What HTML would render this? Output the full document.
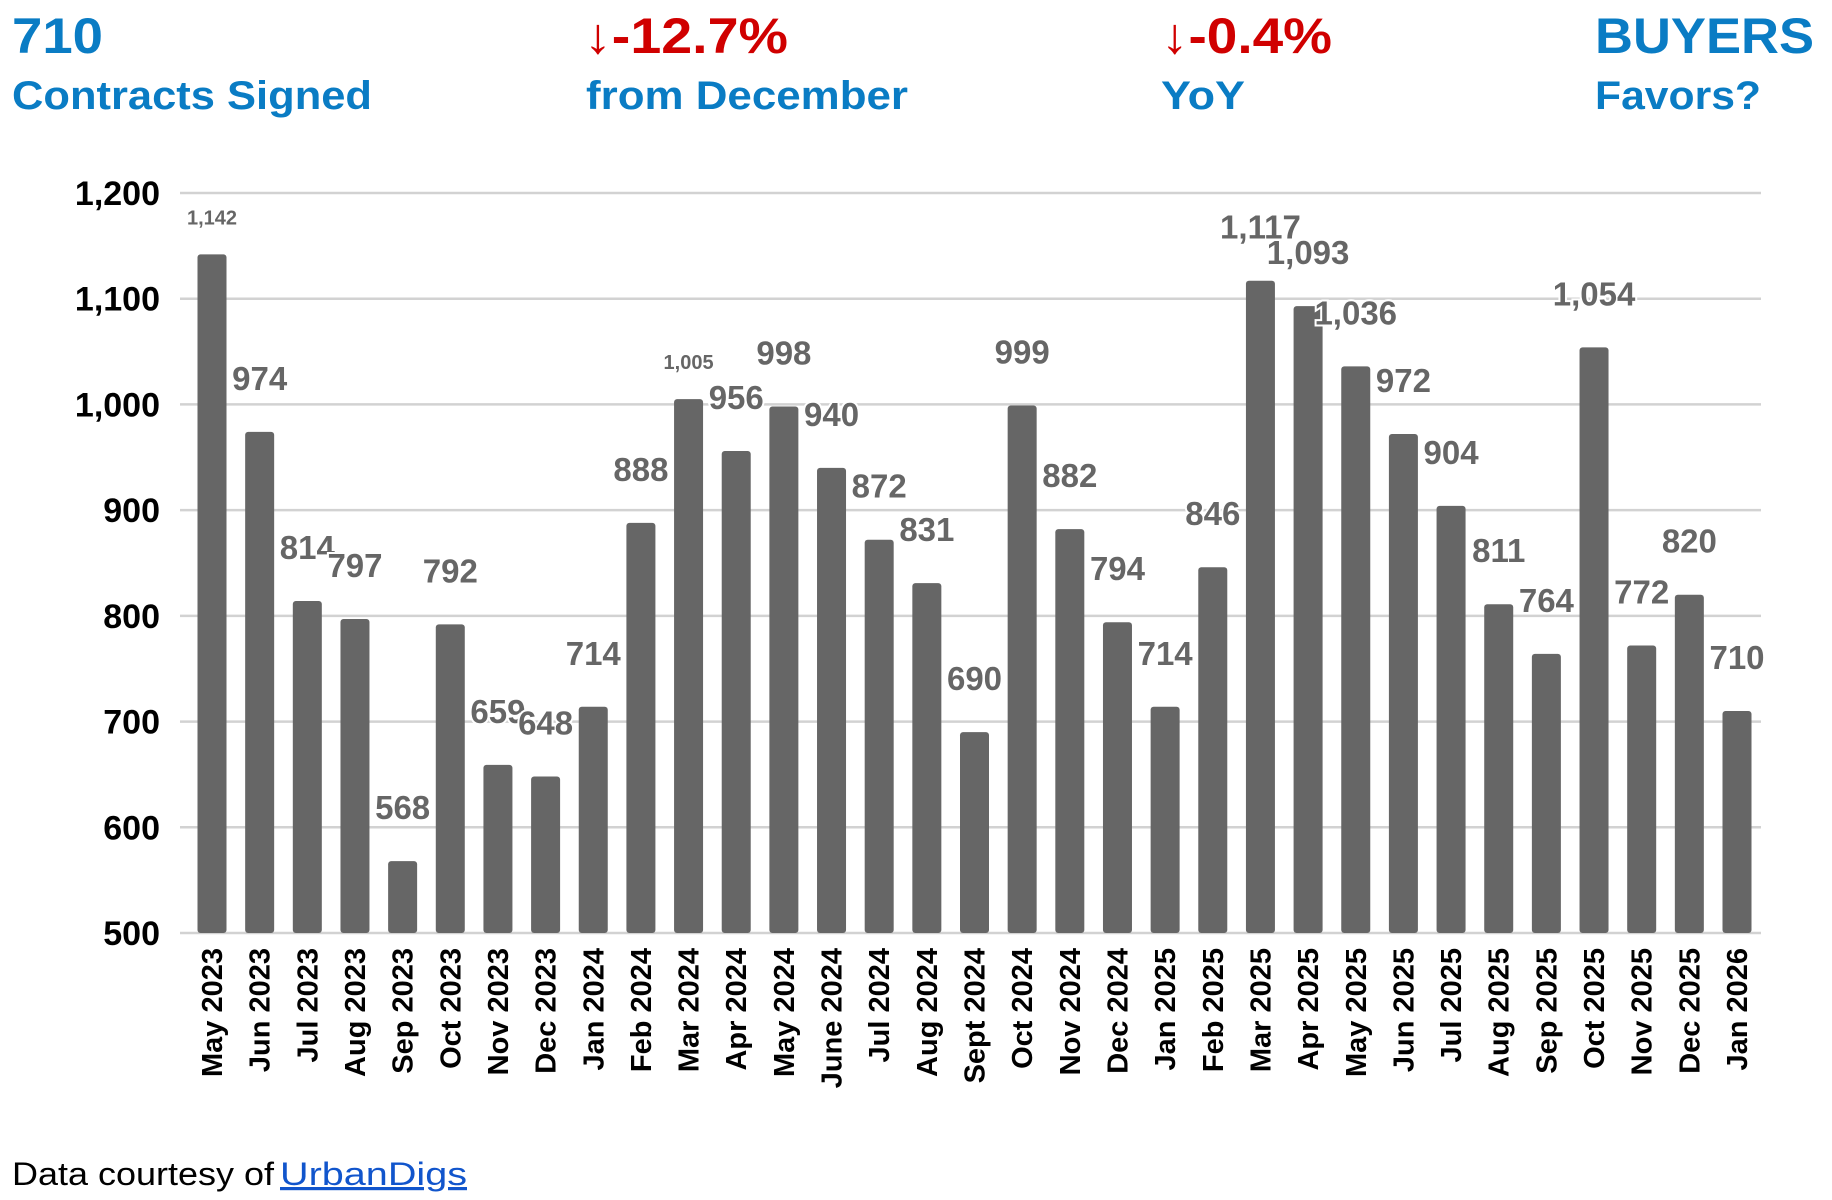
<!DOCTYPE html>
<html><head><meta charset="utf-8"><style>
html,body{margin:0;padding:0;background:#fff;}
svg{display:block;font-family:"Liberation Sans",sans-serif;}
</style></head><body>
<svg id="chart" width="1832" height="1200" viewBox="0 0 1832 1200" xmlns="http://www.w3.org/2000/svg">
<g font-weight="bold">
<text x="12" y="53" font-size="50" fill="#0a7cc4" textLength="91" lengthAdjust="spacingAndGlyphs">710</text>
<text x="12" y="109" font-size="40" fill="#0a7cc4" textLength="360" lengthAdjust="spacingAndGlyphs">Contracts Signed</text>
<text x="584" y="53" font-size="50" fill="#d00000" textLength="204" lengthAdjust="spacingAndGlyphs">↓-12.7%</text>
<text x="586" y="109" font-size="40" fill="#0a7cc4" textLength="322" lengthAdjust="spacingAndGlyphs">from December</text>
<text x="1161" y="53" font-size="50" fill="#d00000" textLength="171" lengthAdjust="spacingAndGlyphs">↓-0.4%</text>
<text x="1161" y="109" font-size="40" fill="#0a7cc4" textLength="84" lengthAdjust="spacingAndGlyphs">YoY</text>
<text x="1595" y="53" font-size="50" fill="#0a7cc4" textLength="219" lengthAdjust="spacingAndGlyphs">BUYERS</text>
<text x="1595" y="109" font-size="40" fill="#0a7cc4" textLength="166" lengthAdjust="spacingAndGlyphs">Favors?</text>
</g>
<g id="grid"></g>
<g id="bars"></g>
<g id="labels"></g>
<g id="xlabels"></g>
<text x="12" y="1185" font-size="32" fill="#000" textLength="262" lengthAdjust="spacingAndGlyphs">Data courtesy of</text>
<a><text x="280" y="1185" font-size="32" fill="#1155cc" text-decoration="underline" textLength="187" lengthAdjust="spacingAndGlyphs">UrbanDigs</text></a>
</svg>
<script>
const categories = ["May 2023","Jun 2023","Jul 2023","Aug 2023","Sep 2023","Oct 2023","Nov 2023","Dec 2023","Jan 2024","Feb 2024","Mar 2024","Apr 2024","May 2024","June 2024","Jul 2024","Aug 2024","Sept 2024","Oct 2024","Nov 2024","Dec 2024","Jan 2025","Feb 2025","Mar 2025","Apr 2025","May 2025","Jun 2025","Jul 2025","Aug 2025","Sep 2025","Oct 2025","Nov 2025","Dec 2025","Jan 2026"];
const contracts = [1142,974,814,797,568,792,659,648,714,888,1005,956,998,940,872,831,690,999,882,794,714,846,1117,1093,1036,972,904,811,764,1054,772,820,710];
const yTicks = [500,600,700,800,900,1000,1100,1200];
const smallLabelIdx = [0,10];

const NS = "http://www.w3.org/2000/svg";
const X0 = 180, X1 = 1761, Y0 = 933, Y1 = 193, YMIN = 500, YMAX = 1200;
const firstC = 212, lastC = 1737;
const slot = (lastC - firstC) / (categories.length - 1);
function xc(i){ return firstC + slot * i; }
function y(v){ return Y0 - (v - YMIN) / (YMAX - YMIN) * (Y0 - Y1); }
function mk(tag, attrs, parent){ const e = document.createElementNS(NS, tag); for (const k in attrs) e.setAttribute(k, attrs[k]); parent.appendChild(e); return e; }
function fmt(v){ return v.toLocaleString("en-US"); }

const grid = document.getElementById("grid");
yTicks.forEach(t => {
  const l = mk("line", {x1: X0, x2: X1, y1: y(t), y2: y(t), stroke: "#d2d2d2", "stroke-width": 2.5}, grid);
  
  
  const tx = mk("text", {x: 160, y: y(t) + 12, "text-anchor": "end", "font-size": 34, "font-weight": "bold", fill: "#000"}, grid);
  
  
  tx.textContent = fmt(t);
});

const bars = document.getElementById("bars");
const labels = document.getElementById("labels");
const xl = document.getElementById("xlabels");
const bw = 29;
contracts.forEach((v, i) => {
  const b = mk("rect", {x: xc(i) - bw/2, y: y(v), width: bw, height: Y0 - y(v), rx: 3, fill: "#666666"}, bars);
  
  
  const small = smallLabelIdx.includes(i);
  const t = mk("text", {x: xc(i), y: y(v) - (small ? 30 : 42), "text-anchor": "middle", "font-size": small ? 20 : 33, "font-weight": "bold", fill: "#666", stroke: "#fff", "stroke-width": 4, "paint-order": "stroke"}, labels);
  
  
  t.textContent = fmt(v);
  const c = mk("text", {x: 0, y: 0, "text-anchor": "end", "font-size": 29, "font-weight": "bold", fill: "#000", transform: `translate(${xc(i) + 10},${948}) rotate(-90)`}, xl);
  
  
  c.textContent = categories[i];
});
</script>
</body></html>
